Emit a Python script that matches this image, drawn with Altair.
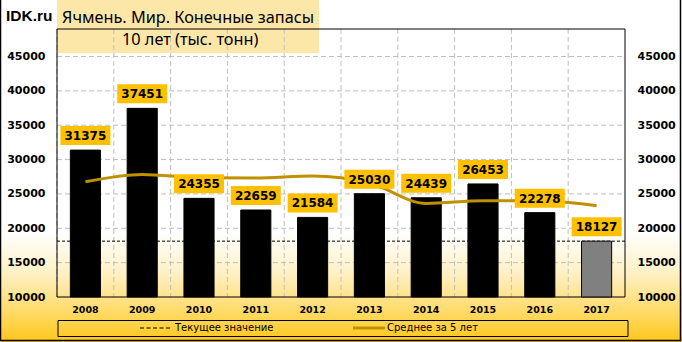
import altair as alt
import pandas as pd

years = ["2008", "2009", "2010", "2011", "2012", "2013", "2014", "2015", "2016", "2017"]
stocks = [31375, 37451, 24355, 22659, 21584, 25030, 24439, 26453, 22278, 18127]
avg5 = [26770, 27840, 27350, 27300, 27600, 26580, 23620, 24000, 24000, 23270]
y_ticks = [10000, 15000, 20000, 25000, 30000, 35000, 40000, 45000]
site = "IDK.ru"
title1 = "Ячмень. Мир. Конечные запасы"
title2 = "10 лет (тыс. тонн)"
leg_current = "Текущее значение"
leg_avg = "Среднее за 5 лет"

W, H = 568, 268
Y_DOMAIN = [10000, 49000]
LINE_COLOR = "#BF9000"
LABEL_BOX = "#FFC000"
NUM_FONT = "DejaVu Sans"

df = pd.DataFrame({
    "year": years,
    "value": stocks,
    "avg": avg5,
    "kind": ["past"] * (len(years) - 1) + ["current"],
})
cur_df = pd.DataFrame({"current": [stocks[-1]]})
grid_df = pd.DataFrame({"t": y_ticks[1:]})
one = pd.DataFrame({"a": [0]})

xs = alt.Scale(type="band", paddingInner=0, paddingOuter=0)
ys = alt.Scale(domain=Y_DOMAIN, nice=False, zero=False)

# background gradient for the whole picture
bg = alt.Chart(one).mark_rect(
    fill=alt.Gradient(
        gradient="linear", x1=0, y1=0, x2=0, y2=1,
        stops=[
            alt.GradientStop(offset=0, color="#FFFFFF"),
            alt.GradientStop(offset=0.68, color="#FFFFFF"),
            alt.GradientStop(offset=0.8, color="#FFF0C4"),
            alt.GradientStop(offset=0.9, color="#FFDD72"),
            alt.GradientStop(offset=1.0, color="#FFC61A"),
        ],
    )
).encode(x=alt.value(-57), x2=alt.value(625), y=alt.value(-29), y2=alt.value(313))

border = alt.Chart(one).mark_rect(fill="transparent", stroke="black", strokeWidth=1.5).encode(
    x=alt.value(-56.5), x2=alt.value(623.5), y=alt.value(-32), y2=alt.value(311.5)
)

title_box = alt.Chart(one).mark_rect(fill="#FDE7A8").encode(
    x=alt.value(0), x2=alt.value(262), y=alt.value(-29), y2=alt.value(24)
)

hgrid = alt.Chart(grid_df).mark_rule(color="#BFBFBF", strokeDash=[5, 3], strokeWidth=1).encode(
    y=alt.Y("t:Q", scale=ys, axis=None), x=alt.value(0), x2=alt.value(W)
)

vgrid = alt.Chart(df).mark_rule(color="#BFBFBF", strokeDash=[5, 3], strokeWidth=1).encode(
    x=alt.X("year:N", scale=xs, bandPosition=0, axis=None), y=alt.value(0), y2=alt.value(H)
)

cur_rule = alt.Chart(cur_df).mark_rule(color="black", strokeDash=[3, 2], strokeWidth=1).encode(
    y=alt.Y("current:Q", scale=ys, axis=None), x=alt.value(0), x2=alt.value(W)
)

frame = alt.Chart(one).mark_rect(fill="transparent", stroke="black", strokeWidth=1).encode(
    x=alt.value(0), x2=alt.value(W), y=alt.value(0), y2=alt.value(H)
)

bars = alt.Chart(df).mark_bar(width={"band": 0.53}, stroke="black", strokeWidth=1).encode(
    x=alt.X("year:N", scale=xs, sort=years, title=None,
            axis=alt.Axis(labelAngle=0, ticks=False, domain=False, grid=False, zindex=2,
                          labelFont=NUM_FONT, labelFontWeight="bold", labelFontSize=9.5,
                          labelColor="black", labelPadding=7)),
    y=alt.Y("value:Q", scale=ys, title=None,
            axis=alt.Axis(values=y_ticks, format="d", ticks=False, domain=False, grid=False, zindex=2,
                          labelFont=NUM_FONT, labelFontWeight="bold", labelFontSize=11,
                          labelColor="black", labelPadding=12)),
    y2=alt.datum(Y_DOMAIN[0]),
    color=alt.Color("kind:N", scale=alt.Scale(domain=["past", "current"], range=["#000000", "#808080"]),
                    legend=None),
)

avg_line = alt.Chart(df).mark_line(color=LINE_COLOR, strokeWidth=3, interpolate="monotone").encode(
    x=alt.X("year:N", scale=xs, sort=years, axis=None),
    y=alt.Y("avg:Q", scale=ys, title=None,
            axis=alt.Axis(orient="right", values=y_ticks, format="d", ticks=False, domain=False,
                          grid=False, zindex=2,
                          labelFont=NUM_FONT, labelFontWeight="bold", labelFontSize=11,
                          labelColor="black", labelPadding=12, labelAlign="left")),
)

label_boxes = alt.Chart(df).mark_point(
    shape="M-1,-0.38L1,-0.38L1,0.38L-1,0.38Z", size=2500, filled=True,
    fill=LABEL_BOX, opacity=1, strokeWidth=0, yOffset=-14.5,
).encode(
    x=alt.X("year:N", scale=xs, sort=years, axis=None),
    y=alt.Y("value:Q", scale=ys, axis=None),
)

label_text = alt.Chart(df).mark_text(
    font=NUM_FONT, fontWeight="bold", fontSize=12, color="black", baseline="middle", dy=-14,
).encode(
    x=alt.X("year:N", scale=xs, sort=years, axis=None),
    y=alt.Y("value:Q", scale=ys, axis=None),
    text=alt.Text("value:Q", format="d"),
)

t_site = alt.Chart(one).mark_text(text=site, font="Liberation Sans", fontWeight="bold", fontSize=15.5,
                                  align="left", baseline="alphabetic", color="black").encode(
    x=alt.value(-51), y=alt.value(-8.5))
t1 = alt.Chart(one).mark_text(text=title1, font="Noto Sans", fontSize=16.3, align="left",
                              baseline="alphabetic", color="black").encode(
    x=alt.value(5), y=alt.value(-6))
t2 = alt.Chart(one).mark_text(text=title2, font="Noto Sans", fontSize=16.3, align="left",
                              baseline="alphabetic", color="black").encode(
    x=alt.value(65), y=alt.value(16))

LY = H + 31
leg_box = alt.Chart(one).mark_rect(fill="transparent", stroke="black", strokeWidth=1).encode(
    x=alt.value(1), x2=alt.value(571), y=alt.value(H + 23.5), y2=alt.value(H + 39.5)
)
leg_dash = alt.Chart(one).mark_rule(color="black", strokeDash=[4, 2.5], strokeWidth=1).encode(
    x=alt.value(83), x2=alt.value(113), y=alt.value(LY)
)
leg_t1 = alt.Chart(one).mark_text(text=leg_current, font="DejaVu Sans", fontSize=10, align="left",
                                  baseline="middle", color="black").encode(
    x=alt.value(118), y=alt.value(LY))
leg_line = alt.Chart(one).mark_rule(color=LINE_COLOR, strokeWidth=3).encode(
    x=alt.value(296), x2=alt.value(328), y=alt.value(LY)
)
leg_t2 = alt.Chart(one).mark_text(text=leg_avg, font="DejaVu Sans", fontSize=10, align="left",
                                  baseline="middle", color="black").encode(
    x=alt.value(330), y=alt.value(LY))

chart = alt.layer(
    bg, border, title_box, hgrid, vgrid, cur_rule, frame, bars, avg_line,
    label_boxes, label_text, t_site, t1, t2, leg_box, leg_dash, leg_t1, leg_line, leg_t2,
).resolve_axis(y="independent", x="independent").properties(
    width=W, height=H,
    autosize=alt.AutoSizeParams(type="none"),
    padding={"left": 57, "top": 29, "right": 57, "bottom": 45},
).configure_view(stroke=None).configure(background="white")

chart.save("out.html", embed_options={"renderer": "svg", "actions": False})
